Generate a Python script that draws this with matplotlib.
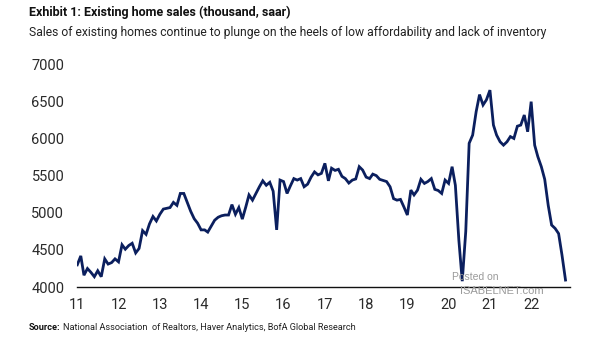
import numpy as np
import pandas as pd
import matplotlib.pyplot as plt

plt.rcParams['font.family'] = ['Roboto', 'DejaVu Sans']

# Existing home sales, monthly Jan 2011 - Nov 2022 (thousand, saar)
sales_2011 = [4300, 4420, 4160, 4250, 4200, 4140, 4220, 4140, 4380, 4310, 4330, 4380]
sales_2012 = [4340, 4570, 4510, 4560, 4590, 4460, 4520, 4760, 4710, 4850, 4950, 4890]
sales_2013 = [4980, 5050, 5060, 5070, 5140, 5100, 5260, 5260, 5140, 5020, 4920, 4860]
sales_2014 = [4770, 4770, 4740, 4820, 4900, 4940, 4960, 4970, 4970, 5110, 4980, 5070]
sales_2015 = [4915, 5080, 5240, 5170, 5260, 5350, 5430, 5370, 5410, 5290, 4770, 5440]
sales_2016 = [5420, 5260, 5360, 5460, 5440, 5460, 5350, 5385, 5480, 5550, 5510, 5530]
sales_2017 = [5665, 5430, 5600, 5570, 5585, 5490, 5460, 5400, 5440, 5455, 5620, 5575]
sales_2018 = [5480, 5460, 5520, 5500, 5450, 5435, 5420, 5350, 5190, 5170, 5180, 5080]
sales_2019 = [4970, 5305, 5240, 5305, 5450, 5395, 5420, 5460, 5315, 5300, 5260, 5440]
sales_2020 = [5395, 5620, 5370, 4630, 4080, 4750, 5935, 6045, 6360, 6590, 6450, 6520]
sales_2021 = [6650, 6180, 6045, 5955, 5910, 5955, 6025, 6000, 6165, 6180, 6315, 6090]
sales_2022 = [6495, 5910, 5755, 5620, 5450, 5100, 4835, 4790, 4720, 4430, 4095]

sales = (sales_2011 + sales_2012 + sales_2013 + sales_2014 + sales_2015 + sales_2016
         + sales_2017 + sales_2018 + sales_2019 + sales_2020 + sales_2021 + sales_2022)
dates = pd.date_range("2011-01-01", periods=len(sales), freq="MS")
years = list(range(2011, 2023))
year_labels = [str(y)[2:] for y in years]
y_ticks = [4000, 4500, 5000, 5500, 6000, 6500, 7000]

fig = plt.figure(figsize=(6.05, 3.41), dpi=100)
ax = fig.add_axes([0.127, 0.158, 0.815, 0.654])

ax.plot(dates, sales, color="#0b1f5e", lw=2.0, solid_joinstyle="miter")

ax.set_ylim(4000, 7000)
ax.set_xlim(pd.Timestamp("2010-12-28"), pd.Timestamp("2022-12-10"))
ax.set_yticks(y_ticks)
ax.set_yticklabels([str(v) for v in y_ticks])
ax.set_xticks([pd.Timestamp(f"{y}-01-01") for y in years])
ax.set_xticklabels(year_labels)
ax.tick_params(axis="both", length=0, labelsize=10.5, colors="#2a2a2a")
ax.tick_params(axis="x", pad=8)
ax.tick_params(axis="y", pad=9)
for s in ["top", "right", "left"]:
    ax.spines[s].set_visible(False)
ax.spines["bottom"].set_color("#111111")
ax.spines["bottom"].set_linewidth(1.0)

# Titles
fig.text(0.048, 0.965, "Exhibit 1: Existing home sales (thousand, saar)",
         fontsize=9, fontweight="bold", color="#111111", va="center")
fig.text(0.048, 0.905, "Sales of existing homes continue to plunge on the heels of low "
         "affordability and lack of inventory",
         fontsize=8.7, color="#222222", va="center")

# Source
fig.text(0.048, 0.04, "Source:", fontsize=6.6, fontweight="bold", color="#111111", va="center")
fig.text(0.104, 0.04, "National Association  of Realtors, Haver Analytics, BofA Global Research",
         fontsize=6.6, color="#222222", va="center")

# watermark
fig.text(0.785, 0.18, "Posted on", fontsize=7.5, color="#9a9a9a", ha="center",
         family=["Liberation Sans", "DejaVu Sans"])
fig.text(0.83, 0.137, "ISABELNET.com", fontsize=8, color="#9a9a9a", ha="center",
         family=["Liberation Sans", "DejaVu Sans"])

plt.savefig("out.png", dpi=100)
